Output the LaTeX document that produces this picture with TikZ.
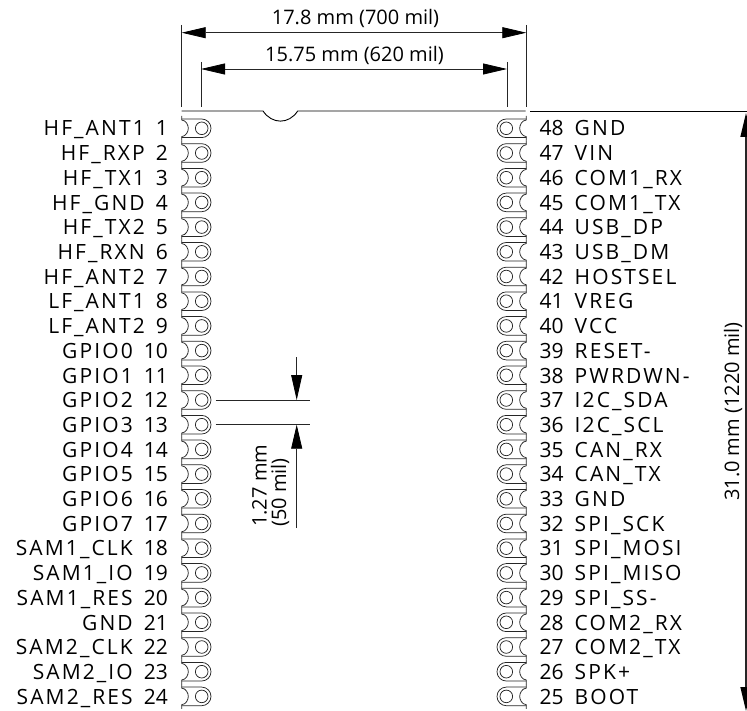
\documentclass[tikz,border=0pt]{standalone}
\usepackage{fontspec}
\setmainfont{Open Sans}
\newfontfamily\pinfont[LetterSpace=10]{Open Sans}
\usetikzlibrary{arrows.meta}
\tikzset{
  pinlabel/.style={font=\fontsize{21}{21}\selectfont,inner sep=0pt,text=black},
  dimlabel/.style={font=\fontsize{20}{20}\selectfont,inner sep=0pt,text=black},
  dimline/.style={line width=0.8pt,draw=black!85},
  dimarrow/.style={dimline,{Triangle[length=24pt,width=11pt,black]}-{Triangle[length=24pt,width=11pt,black]}},
  outline/.style={line width=0.9pt,draw=black},
  padline/.style={line width=0.75pt,draw=black!85},
}
\begin{document}
\begin{tikzpicture}[x=1pt,y=-1pt]
\useasboundingbox (0,0) rectangle (747,711);
\clip (0,0) rectangle (747,711);
\def\xL{181.7}\def\xR{526.3}\def\pitch{24.7}
% board top edge
\draw[outline] (\xL,111) -- (263,111) .. controls (272,124.5) and (289,124.5) .. (297.7,111) -- (525.5,111);
\draw[outline] (530,111) -- (747,111);
% left and right pads
\foreach \i in {0,...,23}{
  \pgfmathsetmacro{\yy}{128.3+\i*\pitch}
  \begin{scope}[shift={(\xL,\yy)}]
    \draw[padline] (0,-12.35) -- (0,-8.3) .. controls (4.5,-8) and (6.6,-3) .. (6.6,0) .. controls (6.6,3) and (4.5,8) .. (0,8.3) -- (0,12.35);
    \draw[padline] (0,-9.3) -- (20,-9.3) arc[start angle=-90,end angle=90,radius=9.3] -- (0,9.3);
    \draw[padline] (20,0) circle[radius=6.3];
  \end{scope}
  \begin{scope}[shift={(\xR,\yy)}]
    \draw[padline] (0,-12.35) -- (0,-8.3) .. controls (-4.5,-8) and (-6.6,-3) .. (-6.6,0) .. controls (-6.6,3) and (-4.5,8) .. (0,8.3) -- (0,12.35);
    \draw[padline] (0,-9.3) -- (-20,-9.3) arc[start angle=270,end angle=90,radius=9.3] -- (0,9.3);
    \draw[padline] (-20,0) circle[radius=6.3];
  \end{scope}
}
% pin labels, left
\foreach \t/\n [count=\i from 0] in {HF\_ANT1/1,HF\_RXP/2,HF\_TX1/3,HF\_GND/4,HF\_TX2/5,HF\_RXN/6,HF\_ANT2/7,LF\_ANT1/8,LF\_ANT2/9,GPIO0/10,GPIO1/11,GPIO2/12,GPIO3/13,GPIO4/14,GPIO5/15,GPIO6/16,GPIO7/17,SAM1\_CLK/18,SAM1\_IO/19,SAM1\_RES/20,GND/21,SAM2\_CLK/22,SAM2\_IO/23,SAM2\_RES/24}{
  \pgfmathsetmacro{\yy}{136+\i*\pitch}
  \node[pinlabel,anchor=base east] (pinL\i) at (168,\yy) {{\pinfont\t}\hspace{11pt}\n};
}
% pin labels, right
\foreach \n/\t [count=\i from 0] in {48/GND,47/VIN,46/COM1\_RX,45/COM1\_TX,44/USB\_DP,43/USB\_DM,42/HOSTSEL,41/VREG,40/VCC,39/RESET-,38/PWRDWN-,37/I2C\_SDA,36/I2C\_SCL,35/CAN\_RX,34/CAN\_TX,33/GND,32/SPI\_SCK,31/SPI\_MOSI,30/SPI\_MISO,29/SPI\_SS-,28/COM2\_RX,27/COM2\_TX,26/SPK+,25/BOOT}{
  \pgfmathsetmacro{\yy}{136+\i*\pitch}
  \node[pinlabel,anchor=base west] (pinR\i) at (539.5,\yy) {\n\hspace{11pt}{\pinfont\t}};
}
% width dimensions
\coordinate (wA) at (\xL,32.7); \coordinate (wB) at (\xR,32.7);
\coordinate (pA) at (201,69); \coordinate (pB) at (507,69);
\draw[dimline] (\xL,25) -- (\xL,107);
\draw[dimline] (\xR,25) -- (\xR,107);
\draw[dimline] (201,62) -- (201,107);
\draw[dimline] (507,62) -- (507,107);
\draw[dimarrow] (wA) -- (wB);
\draw[dimarrow] (pA) -- (pB);
\node[dimlabel,anchor=base] (wT) at (355.5,25) {17.8 mm (700 mil)};
\node[dimlabel,anchor=base] (pT) at (354.5,61.7) {15.75 mm (620 mil)};
% height dimension
\coordinate (hA) at (746,113); \coordinate (hB) at (746,711);
\draw[dimarrow,line width=1.5pt] (hA) -- (hB);
\node[dimlabel,rotate=90,anchor=base] (hT) at (739,411.5) {31.0 mm (1220 mil)};
% pitch dimension
\coordinate (d12) at (296.7,400); \coordinate (d13) at (296.7,424.7);
\draw[dimline] (215.7,400) -- (310,400);
\draw[dimline] (215.7,424.7) -- (310,424.7);
\coordinate (dT) at (296.7,357); \coordinate (dB) at (296.7,528);
\draw[dimline,-{Triangle[length=25pt,width=11pt,black]}] (dT) -- (d12);
\draw[dimline,-{Triangle[length=24pt,width=11pt,black]}] (dB) -- (d13);
\node[dimlabel,rotate=90,anchor=north west,align=left,font=\fontsize{20}{19.5}\selectfont] (dL) at (252,527) {1.27 mm\\(50 mil)};
\end{tikzpicture}
\end{document}
